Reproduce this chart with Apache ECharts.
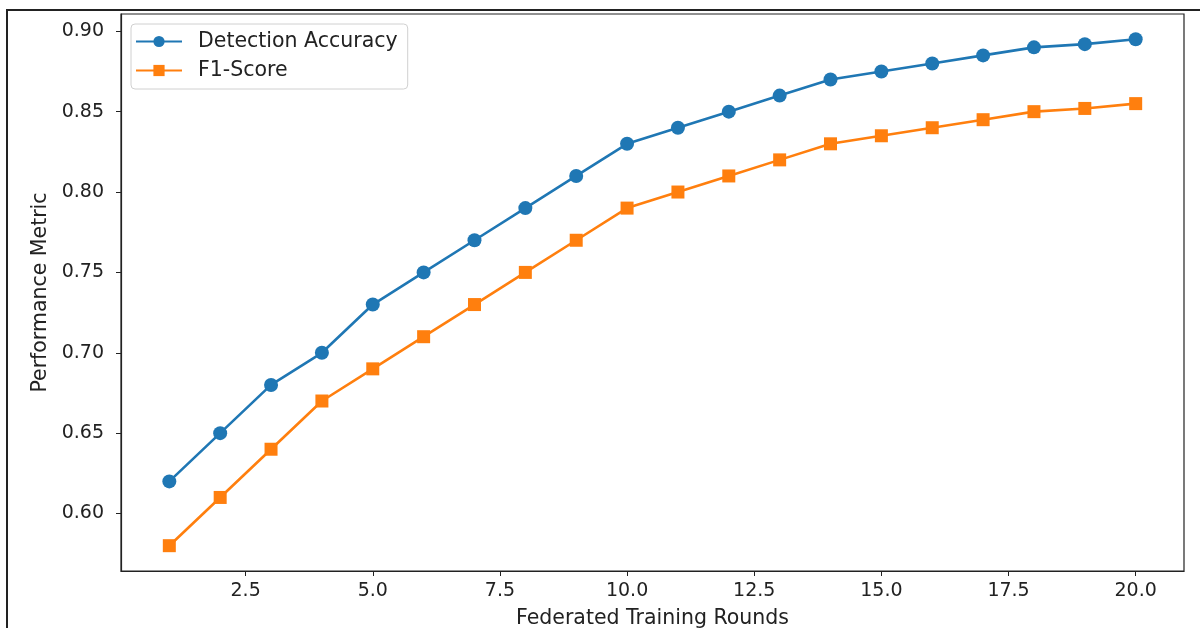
<!DOCTYPE html>
<html>
<head>
<meta charset="utf-8">
<script src="https://cdn.jsdelivr.net/npm/echarts@6/dist/echarts.min.js"></script>
<style>
  html, body { margin: 0; padding: 0; background: #fff; }
  #wrap { position: relative; width: 1200px; height: 628px; overflow: hidden; }
  #chart { position: absolute; left: 0; top: 0; width: 1200px; height: 628px; }
  /* the screenshot frame around the figure */
  #frame { position: absolute; left: 6px; top: 9px; width: 1300px; height: 700px;
           border-left: 2px solid #222; border-top: 2px solid #222; pointer-events: none; }
</style>
</head>
<body>
<div id="wrap">
  <div id="chart"></div>
  <div id="frame"></div>
</div>
<script>
// federated training rounds
const rounds = [1,2,3,4,5,6,7,8,9,10,11,12,13,14,15,16,17,18,19,20];
const accuracy = [0.62,0.65,0.68,0.70,0.73,0.75,0.77,0.79,0.81,0.83,0.84,0.85,0.86,0.87,0.875,0.88,0.885,0.89,0.892,0.895];
const f1Score = [0.58,0.61,0.64,0.67,0.69,0.71,0.73,0.75,0.77,0.79,0.80,0.81,0.82,0.83,0.835,0.84,0.845,0.85,0.852,0.855];
const xTicks = [2.5,5,7.5,10,12.5,15,17.5,20];
const yTicks = [0.60,0.65,0.70,0.75,0.80,0.85,0.90];

const font = 'DejaVu Sans';
const fs = 19;   // tick labels
const fsText = 20.5; // legend + axis names

const myChart = echarts.init(document.getElementById('chart'), null, { renderer: 'canvas' });

const option = {
  animation: false,
  color: ['#1f77b4', '#ff7f0e'],
  grid: {
    left: 121, right: 16, top: 14, bottom: 57,
    show: true, borderColor: '#222', borderWidth: 1.2,
    containLabel: false,
    outerBoundsMode: 'none'
  },
  legend: {
    left: 131, top: 24,
    orient: 'vertical',
    data: ['Detection Accuracy', 'F1-Score'],
    itemWidth: 46, itemHeight: 14, itemGap: 8,
    padding: [7, 10, 8, 4],
    borderColor: '#d0d0d0', borderWidth: 1, borderRadius: 4,
    textStyle: { fontFamily: font, fontSize: fsText, color: '#222', padding: [0, 0, 0, 11] }
  },
  xAxis: {
    type: 'value',
    min: 0.05, max: 20.95,
    name: 'Federated Training Rounds',
    nameLocation: 'middle', nameGap: 37,
    nameTextStyle: { fontFamily: font, fontSize: fsText, color: '#222' },
    axisLine: { show: true, onZero: false, lineStyle: { color: '#222', width: 1.2 } },
    axisTick: { show: true, length: 5, lineStyle: { color: '#222' }, customValues: xTicks },
    axisLabel: { fontFamily: font, fontSize: fs, color: '#222', margin: 11,
                 customValues: xTicks, formatter: v => v.toFixed(1) },
    splitLine: { show: false }
  },
  yAxis: {
    type: 'value',
    min: 0.56425, max: 0.91075,
    name: 'Performance Metric',
    nameLocation: 'middle', nameGap: 68,
    nameTextStyle: { fontFamily: font, fontSize: fsText, color: '#222' },
    axisLine: { show: true, lineStyle: { color: '#222', width: 1.2 } },
    axisTick: { show: true, length: 5, lineStyle: { color: '#222' }, customValues: yTicks },
    axisLabel: { fontFamily: font, fontSize: fs, color: '#222', margin: 17,
                 customValues: yTicks, formatter: v => v.toFixed(2) },
    splitLine: { show: false }
  },
  series: [
    {
      name: 'Detection Accuracy',
      type: 'line',
      data: rounds.map((r, i) => [r, accuracy[i]]),
      symbol: 'circle', symbolSize: 14,
      showAllSymbol: true,
      lineStyle: { width: 2.6 },
      emphasis: { disabled: true }
    },
    {
      name: 'F1-Score',
      type: 'line',
      data: rounds.map((r, i) => [r, f1Score[i]]),
      symbol: 'rect', symbolSize: 13,
      showAllSymbol: true,
      lineStyle: { width: 2.6 },
      emphasis: { disabled: true }
    }
  ]
};

myChart.setOption(option);
window.addEventListener('resize', () => { myChart.resize(); });
</script>
</body>
</html>
